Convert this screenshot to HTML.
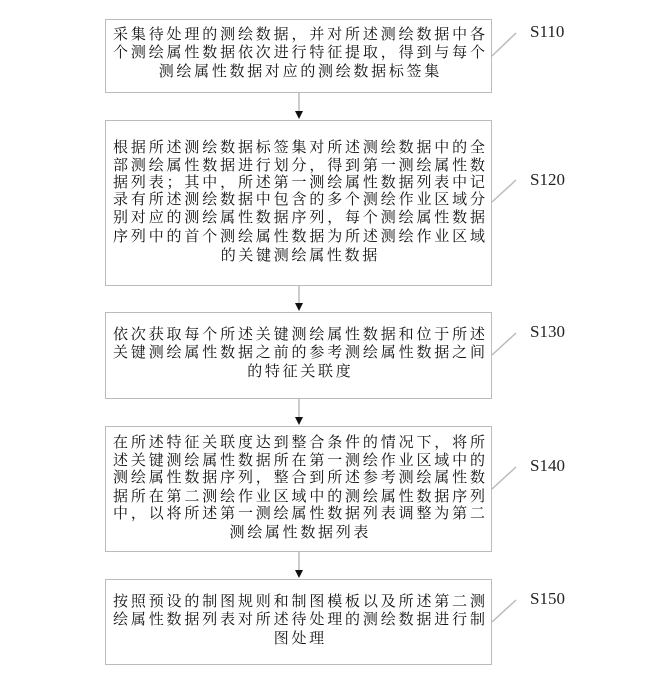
<!DOCTYPE html>
<html><head><meta charset="utf-8"><style>
body{margin:0;background:#fff;width:650px;height:690px;position:relative;overflow:hidden}
.b{position:absolute;left:105px;width:387px;border:1.5px solid #bbb;box-sizing:border-box}
.l{position:absolute;left:113px;width:372px;font:15px/18px "Liberation Serif","Noto Serif CJK SC",serif;color:#111;text-align:justify;text-align-last:justify;white-space:nowrap}
.c{text-align:center;text-align-last:center;letter-spacing:2.7px;text-indent:2.7px}
.s{position:absolute;left:530px;font:17px "Liberation Serif",serif;color:#222}
</style></head><body>
<div class="b" style="top:19px;height:74px"></div>
<div class="b" style="top:120px;height:166px"></div>
<div class="b" style="top:312px;height:87px"></div>
<div class="b" style="top:426px;height:126px"></div>
<div class="b" style="top:579px;height:86px"></div>
<svg width="650" height="690" style="position:absolute;left:0;top:0">
<g stroke="#bbb" stroke-width="1.5">
<line x1="299" y1="93" x2="299" y2="112"/><line x1="299" y1="286" x2="299" y2="304"/>
<line x1="299" y1="399" x2="299" y2="418"/><line x1="299" y1="552" x2="299" y2="571"/>
<line x1="492" y1="56" x2="516" y2="33"/><line x1="492" y1="202" x2="516" y2="180"/>
<line x1="492" y1="355" x2="516" y2="333"/><line x1="492" y1="489" x2="516" y2="467"/>
<line x1="492" y1="622" x2="516" y2="600"/></g>
<g fill="#111"><path d="M295,111h8l-4,8z"/><path d="M295,303h8l-4,8z"/><path d="M295,417h8l-4,8z"/><path d="M295,570h8l-4,8z"/></g>
</svg>
<div class="s" style="top:22px">S110</div><div class="s" style="top:170px">S120</div>
<div class="s" style="top:322px">S130</div><div class="s" style="top:456px">S140</div>
<div class="s" style="top:589px">S150</div>
<div class="l" style="top:26px">采集待处理的测绘数据，并对所述测绘数据中各</div>
<div class="l" style="top:44px">个测绘属性数据依次进行特征提取，得到与每个</div>
<div class="l c" style="top:63px">测绘属性数据对应的测绘数据标签集</div>
<div class="l" style="top:139px">根据所述测绘数据标签集对所述测绘数据中的全</div>
<div class="l" style="top:157px">部测绘属性数据进行划分，得到第一测绘属性数</div>
<div class="l" style="top:174px">据列表；其中，所述第一测绘属性数据列表中记</div>
<div class="l" style="top:191px">录有所述测绘数据中包含的多个测绘作业区域分</div>
<div class="l" style="top:209px">别对应的测绘属性数据序列，每个测绘属性数据</div>
<div class="l" style="top:228px">序列中的首个测绘属性数据为所述测绘作业区域</div>
<div class="l c" style="top:247px">的关键测绘属性数据</div>
<div class="l" style="top:326px">依次获取每个所述关键测绘属性数据和位于所述</div>
<div class="l" style="top:344px">关键测绘属性数据之前的参考测绘属性数据之间</div>
<div class="l c" style="top:363px">的特征关联度</div>
<div class="l" style="top:434px">在所述特征关联度达到整合条件的情况下，将所</div>
<div class="l" style="top:452px">述关键测绘属性数据所在第一测绘作业区域中的</div>
<div class="l" style="top:469px">测绘属性数据序列，整合到所述参考测绘属性数</div>
<div class="l" style="top:488px">据所在第二测绘作业区域中的测绘属性数据序列</div>
<div class="l" style="top:505px">中，以将所述第一测绘属性数据列表调整为第二</div>
<div class="l c" style="top:524px">测绘属性数据列表</div>
<div class="l" style="top:593px">按照预设的制图规则和制图模板以及所述第二测</div>
<div class="l" style="top:611px">绘属性数据列表对所述待处理的测绘数据进行制</div>
<div class="l c" style="top:630px">图处理</div>
</body></html>
